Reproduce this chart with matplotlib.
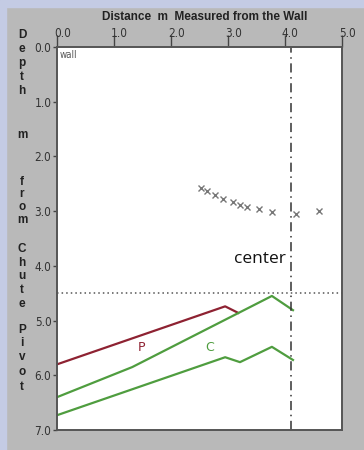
import matplotlib.pyplot as plt
import matplotlib.transforms as mtransforms
from matplotlib.patches import Rectangle

# measured points (distance from wall, depth)
cross_x = [2.53, 2.63, 2.77, 2.92, 3.08, 3.21, 3.34, 3.54, 3.78, 4.20, 4.60]
cross_y = [2.58, 2.63, 2.71, 2.78, 2.84, 2.89, 2.93, 2.96, 3.01, 3.06, 3.00]

p_x = [0.0, 2.95, 3.18]
p_y = [5.80, 4.74, 4.86]

c_upper_x = [0.0, 1.32, 3.77, 4.14]
c_upper_y = [6.40, 5.85, 4.55, 4.81]

c_lower_x = [0.0, 2.95, 3.21, 3.77, 4.14]
c_lower_y = [6.73, 5.67, 5.76, 5.48, 5.72]

center_x = 4.1
level_y = 4.5

x_ticks = [0, 1, 2, 3, 4, 5]
y_ticks = [0, 1, 2, 3, 4, 5, 6, 7]

ylabel_letters = list("Depth") + ["m"] + list("from") + list("Chute") + list("Pivot")
ylabel_rows = [35, 49, 63, 77, 91, 135, 182, 194, 207, 220,
               249, 263, 276, 290, 304, 330, 343, 357, 372, 387]

gray_bg = '#b9b9b9'
blue_bg = '#c4cbe4'
red = '#8e2232'
green = '#4f9d3f'

W, H = 364, 450
fig = plt.figure(figsize=(W / 100, H / 100), dpi=100, facecolor=gray_bg)
fig.patches.append(Rectangle((0, 0), 6 / W, 1, transform=fig.transFigure,
                             color=blue_bg, zorder=0))
fig.patches.append(Rectangle((0, 1 - 7 / H), 1, 7 / H, transform=fig.transFigure,
                             color=blue_bg, zorder=0))

ax = fig.add_axes([57 / W, 1 - 430 / H, 285 / W, 383 / H])
ax.set_facecolor('white')

ax.plot(cross_x, cross_y, 'x', color='#777777', markersize=4.5, markeredgewidth=1.0)
ax.plot(p_x, p_y, color=red, lw=1.6)
ax.plot(c_upper_x, c_upper_y, color=green, lw=1.6)
ax.plot(c_lower_x, c_lower_y, color=green, lw=1.6)

ax.axvline(center_x, color='#333333', lw=1.1, linestyle=(0, (6, 3, 1, 3)))
ax.axhline(level_y, color='#555555', lw=1.1, linestyle=(0, (1, 2)))

ax.text(1.49, 5.5, 'P', color=red, fontsize=9, ha='center', va='center')
ax.text(2.67, 5.5, 'C', color=green, fontsize=9, ha='center', va='center')
ax.text(4.02, 3.95, 'center', fontsize=12.5, family=['Open Sans', 'DejaVu Sans'],
        ha='right', va='baseline', color='#111111')
ax.text(0.04, 0.06, 'wall', fontsize=7, fontstretch='condensed', color='#555555',
        ha='left', va='top')

ax.set_xlim(0, 5)
ax.set_ylim(7, 0)
ax.set_xticks(x_ticks)
ax.set_xticklabels([f'{v:.1f}' for v in x_ticks])
ax.set_yticks(y_ticks)
ax.set_yticklabels([f'{v:.1f}' for v in y_ticks])

ax.xaxis.tick_top()
ax.tick_params(axis='x', direction='out', length=9, width=1, pad=-4,
               colors='#444444', labelsize=8.5)
ax.tick_params(axis='y', direction='out', length=3, width=1, pad=1,
               colors='#444444', labelsize=8.5)
shift = mtransforms.ScaledTranslation(-3 / 100, 0, fig.dpi_scale_trans)
for lbl in ax.get_xticklabels() + ax.get_yticklabels():
    lbl.set_family('DejaVu Sans')
    lbl.set_stretch('condensed')
    lbl.set_color('#333333')
for lbl in ax.get_xticklabels():
    lbl.set_ha('left')
    lbl.set_transform(lbl.get_transform() + shift)

for s in ax.spines.values():
    s.set_color('#555555')
    s.set_linewidth(1.4)

fig.text(205 / W, 1 - 17 / H, 'Distance  m  Measured from the Wall',
         fontsize=8.5, fontweight='bold', family=['Liberation Sans', 'DejaVu Sans'],
         ha='center', va='center', color='#222222')

for ch, row in zip(ylabel_letters, ylabel_rows):
    fig.text(22 / W, 1 - row / H, ch, fontsize=8.5, fontweight='bold',
             family=['Liberation Sans', 'DejaVu Sans'], ha='center', va='center',
             color='#222222')

fig.savefig('out.png', dpi=100, facecolor=gray_bg)
